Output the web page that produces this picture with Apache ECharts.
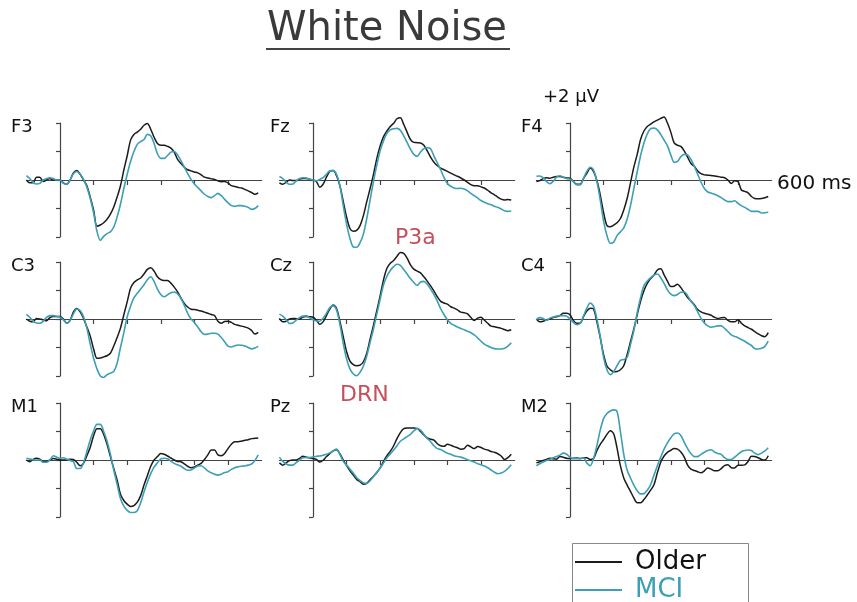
<!DOCTYPE html>
<html>
<head>
<meta charset="utf-8">
<script src="https://cdn.jsdelivr.net/npm/echarts@6/dist/echarts.min.js"></script>
<style>
html,body{margin:0;padding:0;background:#fff;}
#chart{width:857px;height:602px;}
</style>
</head>
<body>
<div id="chart"></div>
<script>
// ---------- data ----------
const times = [-100,-90,-80,-70,-60,-50,-40,-30,-20,-10,0,10,20,30,40,50,60,70,80,90,100,110,120,130,140,150,160,170,180,190,200,210,220,230,240,250,260,270,280,290,300,310,320,330,340,350,360,370,380,390,400,410,420,430,440,450,460,470,480,490,500,510,520,530,540,550,560,570,580,590];

const channels = ['F3','Fz','F4','C3','Cz','C4','M1','Pz','M2'];
const groups = ['Older','MCI'];
const xTicks = [100,200,300,400,500];

const F3_older = [0.0,-0.1,-0.1,0.1,0.1,-0.05,0.0,0.05,0.0,0.0,0.0,-0.1,-0.15,0.0,0.25,0.33,0.2,0.0,-0.2,-0.6,-1.05,-1.62,-1.58,-1.5,-1.38,-1.2,-0.95,-0.6,-0.2,0.35,0.85,1.4,1.6,1.68,1.78,1.92,1.98,1.78,1.5,1.28,1.22,1.22,1.18,1.12,0.98,0.72,0.58,0.45,0.36,0.32,0.28,0.25,0.18,0.1,0.07,0.04,0.02,-0.03,-0.06,-0.05,-0.1,-0.2,-0.23,-0.26,-0.28,-0.33,-0.38,-0.44,-0.5,-0.45];
const F3_mci = [0.15,0.05,-0.08,-0.14,-0.12,0.0,0.05,0.08,0.05,0.0,0.0,-0.12,-0.15,0.0,0.22,0.3,0.2,0.02,-0.25,-0.65,-1.15,-1.8,-2.12,-1.98,-1.88,-1.82,-1.65,-1.3,-0.85,-0.3,0.2,0.65,1.0,1.25,1.35,1.42,1.6,1.55,1.28,0.92,0.76,0.76,0.86,0.98,1.0,0.88,0.68,0.45,0.22,0.02,-0.14,-0.26,-0.38,-0.5,-0.58,-0.62,-0.55,-0.47,-0.55,-0.68,-0.8,-0.9,-0.92,-0.9,-0.9,-0.92,-0.96,-1.03,-1.0,-0.9];

const Fz_older = [-0.1,-0.15,-0.08,0.0,-0.02,-0.02,0.03,0.05,0.05,0.03,0.0,-0.05,-0.25,-0.15,0.1,0.3,0.33,0.15,-0.2,-0.75,-1.3,-1.7,-1.8,-1.77,-1.6,-1.25,-0.76,-0.3,0.2,0.76,1.2,1.52,1.72,1.88,1.99,2.15,2.18,1.95,1.68,1.42,1.32,1.31,1.3,1.22,1.02,0.8,0.62,0.5,0.42,0.36,0.3,0.24,0.18,0.13,0.07,0.0,-0.08,-0.16,-0.2,-0.2,-0.24,-0.28,-0.36,-0.45,-0.52,-0.6,-0.67,-0.7,-0.68,-0.7];
const Fz_mci = [0.12,0.05,-0.07,-0.15,-0.14,-0.03,0.05,0.08,0.07,0.03,0.0,-0.03,0.02,0.08,0.2,0.32,0.33,0.2,-0.2,-0.9,-1.55,-2.05,-2.35,-2.36,-2.2,-1.9,-1.35,-0.7,-0.05,0.53,1.03,1.38,1.64,1.76,1.8,1.81,1.74,1.55,1.32,1.08,0.9,0.83,0.98,1.1,1.13,1.1,0.84,0.6,0.36,0.08,-0.12,-0.22,-0.28,-0.3,-0.29,-0.32,-0.38,-0.47,-0.55,-0.63,-0.72,-0.78,-0.83,-0.87,-0.92,-0.96,-1.02,-1.08,-1.1,-1.09];

const F4_older = [-0.05,-0.02,0.05,0.08,0.06,0.1,0.12,0.12,0.1,0.07,0.06,-0.05,-0.15,-0.15,0.05,0.23,0.42,0.3,-0.02,-0.52,-1.15,-1.6,-1.64,-1.58,-1.5,-1.35,-1.05,-0.65,-0.1,0.45,0.9,1.42,1.72,1.88,1.96,2.04,2.1,2.16,2.21,2.0,1.68,1.3,1.22,1.18,1.02,0.8,0.58,0.48,0.32,0.22,0.18,0.17,0.16,0.14,0.12,0.1,0.08,0.0,-0.12,-0.03,-0.05,-0.35,-0.4,-0.45,-0.58,-0.65,-0.66,-0.65,-0.62,-0.58];
const F4_mci = [0.13,0.14,0.08,-0.05,-0.13,-0.05,0.1,0.15,0.1,0.05,0.03,-0.06,-0.17,-0.17,0.06,0.3,0.45,0.35,-0.05,-0.7,-1.45,-1.95,-2.22,-2.18,-1.95,-1.82,-1.68,-1.38,-0.9,-0.3,0.28,0.85,1.3,1.62,1.8,1.82,1.76,1.6,1.4,1.2,0.88,0.62,0.65,0.82,0.9,0.88,0.72,0.48,0.2,-0.08,-0.3,-0.42,-0.46,-0.5,-0.55,-0.62,-0.7,-0.76,-0.76,-0.73,-0.82,-0.9,-0.96,-1.03,-1.1,-1.1,-1.1,-1.16,-1.15,-1.13];

const C3_older = [0.0,-0.08,-0.1,0.02,0.0,-0.03,-0.06,0.05,0.09,0.09,0.09,0.0,-0.15,-0.05,0.25,0.37,0.25,0.02,-0.28,-0.6,-1.05,-1.38,-1.37,-1.33,-1.29,-1.2,-0.95,-0.65,-0.32,0.15,0.6,1.08,1.28,1.37,1.44,1.58,1.74,1.8,1.68,1.48,1.38,1.35,1.35,1.26,1.12,0.95,0.74,0.55,0.42,0.34,0.33,0.31,0.28,0.24,0.2,0.16,0.12,-0.08,-0.15,-0.09,-0.08,-0.12,-0.19,-0.22,-0.25,-0.28,-0.32,-0.4,-0.53,-0.47];
const C3_mci = [0.16,0.06,-0.08,-0.14,-0.15,-0.08,0.06,0.12,0.12,0.09,0.06,-0.03,-0.15,-0.05,0.18,0.35,0.3,0.08,-0.32,-0.88,-1.38,-1.75,-2.0,-2.05,-1.95,-1.9,-1.84,-1.55,-1.0,-0.48,0.08,0.45,0.74,0.9,1.05,1.2,1.38,1.48,1.32,1.05,0.86,0.78,0.85,0.92,0.95,0.88,0.72,0.48,0.2,0.0,-0.12,-0.28,-0.45,-0.54,-0.53,-0.5,-0.5,-0.53,-0.65,-0.8,-0.95,-0.98,-0.94,-0.91,-0.92,-0.95,-1.0,-1.05,-1.02,-0.96];

const Cz_older = [0.02,-0.1,-0.08,0.0,0.02,0.01,0.0,0.07,0.09,0.08,0.06,-0.04,-0.18,-0.1,0.12,0.35,0.49,0.38,-0.08,-0.62,-1.15,-1.48,-1.6,-1.64,-1.62,-1.5,-1.2,-0.7,-0.22,0.3,0.82,1.38,1.78,1.96,2.05,2.2,2.33,2.3,2.14,1.9,1.75,1.68,1.62,1.48,1.33,1.16,0.98,0.78,0.62,0.56,0.52,0.43,0.38,0.32,0.24,0.22,0.18,0.05,-0.05,0.03,0.06,-0.04,-0.15,-0.25,-0.27,-0.3,-0.33,-0.37,-0.41,-0.38];
const Cz_mci = [0.17,0.1,-0.02,-0.16,-0.14,-0.04,0.05,0.1,0.11,0.04,-0.02,-0.07,-0.08,0.03,0.2,0.4,0.46,0.32,-0.18,-0.85,-1.4,-1.75,-1.93,-1.99,-1.87,-1.65,-1.3,-0.82,-0.35,0.18,0.7,1.2,1.5,1.7,1.84,1.92,1.88,1.74,1.58,1.42,1.28,1.18,1.3,1.32,1.22,1.05,0.86,0.63,0.36,0.15,-0.03,-0.15,-0.22,-0.28,-0.33,-0.38,-0.43,-0.48,-0.56,-0.66,-0.78,-0.88,-0.95,-1.0,-1.04,-1.05,-1.05,-1.03,-0.95,-0.84];

const C4_older = [0.0,-0.1,-0.08,-0.03,0.0,0.05,0.08,0.12,0.2,0.2,0.15,-0.05,-0.15,-0.15,0.08,0.28,0.38,0.35,-0.1,-0.65,-1.25,-1.65,-1.78,-1.85,-1.84,-1.78,-1.64,-1.25,-0.8,-0.35,0.15,0.62,0.99,1.25,1.42,1.54,1.72,1.76,1.55,1.33,1.14,1.15,1.22,1.1,0.93,0.75,0.63,0.5,0.33,0.25,0.2,0.17,0.13,0.06,0.02,0.04,0.05,-0.05,-0.1,-0.1,-0.03,-0.15,-0.24,-0.3,-0.36,-0.44,-0.52,-0.59,-0.62,-0.48];
const C4_mci = [-0.02,0.05,0.02,-0.05,0.03,0.07,0.1,0.12,0.12,0.1,0.0,-0.12,-0.2,-0.16,0.1,0.38,0.56,0.45,0.0,-0.62,-1.35,-1.78,-1.95,-1.85,-1.64,-1.45,-1.42,-1.35,-0.9,-0.41,0.22,0.75,1.17,1.33,1.45,1.54,1.58,1.45,1.25,1.02,0.87,0.82,0.86,0.94,0.95,0.82,0.62,0.47,0.25,0.02,-0.14,-0.24,-0.29,-0.27,-0.24,-0.24,-0.33,-0.44,-0.56,-0.61,-0.66,-0.72,-0.78,-0.86,-0.93,-1.04,-1.05,-1.03,-0.96,-0.78];

const M1_older = [0.0,-0.06,0.02,0.06,0.03,-0.06,-0.06,0.0,0.05,0.03,0.0,0.0,0.0,0.03,0.02,-0.08,-0.2,-0.12,0.15,0.45,0.85,1.1,1.1,0.9,0.55,0.12,-0.3,-0.7,-1.2,-1.42,-1.55,-1.63,-1.6,-1.48,-1.25,-0.88,-0.55,-0.22,0.0,0.12,0.23,0.2,0.14,0.07,0.0,-0.05,-0.06,-0.14,-0.22,-0.27,-0.24,-0.18,-0.12,0.02,0.18,0.35,0.35,0.18,0.15,0.23,0.4,0.55,0.64,0.64,0.66,0.69,0.71,0.75,0.76,0.77];
const M1_mci = [0.06,0.03,0.01,0.0,0.0,-0.08,-0.08,0.0,0.15,0.1,0.06,0.08,0.03,-0.02,-0.06,-0.3,-0.3,-0.1,0.3,0.7,1.02,1.25,1.25,1.0,0.66,0.2,-0.35,-0.85,-1.35,-1.62,-1.77,-1.84,-1.84,-1.78,-1.5,-1.12,-0.78,-0.48,-0.25,-0.1,0.04,0.06,0.04,-0.04,-0.12,-0.17,-0.22,-0.3,-0.36,-0.35,-0.28,-0.21,-0.2,-0.28,-0.38,-0.45,-0.5,-0.53,-0.5,-0.44,-0.41,-0.33,-0.27,-0.24,-0.22,-0.21,-0.18,-0.14,-0.02,0.18];

const Pz_older = [-0.1,-0.18,-0.1,-0.02,0.0,0.0,0.06,0.13,0.1,0.08,0.05,0.02,-0.07,-0.01,0.12,0.22,0.32,0.36,0.22,0.0,-0.2,-0.38,-0.53,-0.68,-0.76,-0.85,-0.82,-0.69,-0.57,-0.44,-0.28,-0.05,0.15,0.3,0.5,0.75,0.96,1.1,1.12,1.12,1.12,1.11,1.0,0.88,0.78,0.73,0.7,0.57,0.5,0.48,0.55,0.52,0.47,0.43,0.38,0.4,0.52,0.46,0.4,0.47,0.44,0.38,0.35,0.3,0.27,0.22,0.14,0.02,0.08,0.2];
const Pz_mci = [0.1,-0.05,-0.14,-0.18,-0.18,-0.09,0.0,0.08,0.09,0.09,0.1,0.13,0.14,0.17,0.2,0.25,0.32,0.38,0.2,-0.05,-0.18,-0.32,-0.46,-0.62,-0.72,-0.8,-0.82,-0.73,-0.58,-0.43,-0.28,-0.1,0.08,0.21,0.35,0.5,0.66,0.74,0.82,0.9,1.02,1.1,1.05,0.9,0.76,0.64,0.5,0.4,0.37,0.3,0.24,0.2,0.15,0.12,0.1,0.06,0.01,-0.03,-0.07,-0.13,-0.17,-0.21,-0.27,-0.35,-0.43,-0.48,-0.46,-0.4,-0.3,-0.17];

const M2_older = [-0.1,-0.06,-0.02,0.02,0.06,0.04,0.03,0.12,0.1,0.06,0.05,0.06,0.07,0.05,0.07,0.08,0.02,0.05,0.33,0.55,0.72,0.9,1.03,0.92,0.42,-0.2,-0.63,-0.88,-1.1,-1.33,-1.5,-1.5,-1.39,-1.23,-1.06,-0.87,-0.45,-0.08,0.14,0.27,0.34,0.4,0.38,0.28,0.1,-0.18,-0.32,-0.37,-0.41,-0.45,-0.38,-0.28,-0.32,-0.38,-0.38,-0.3,-0.2,-0.17,-0.27,-0.28,-0.18,-0.18,-0.17,-0.05,0.13,0.12,0.08,0.02,0.0,0.15];
const M2_mci = [-0.2,-0.13,-0.07,-0.02,0.02,0.08,0.12,0.17,0.24,0.2,0.1,0.05,0.05,0.05,0.07,-0.1,-0.2,0.05,0.5,1.05,1.45,1.63,1.72,1.76,1.7,1.0,0.2,-0.35,-0.63,-0.88,-1.08,-1.19,-1.18,-1.06,-0.87,-0.53,-0.2,0.1,0.38,0.6,0.78,0.92,0.95,0.86,0.62,0.4,0.22,0.12,0.12,0.2,0.27,0.33,0.36,0.28,0.23,0.2,0.08,0.02,0.02,0.1,0.2,0.29,0.33,0.35,0.33,0.24,0.19,0.24,0.32,0.43];

const olderSeries = [F3_older, Fz_older, F4_older, C3_older, Cz_older, C4_older, M1_older, Pz_older, M2_older];
const mciSeries = [F3_mci, Fz_mci, F4_mci, C3_mci, Cz_mci, C4_mci, M1_mci, Pz_mci, M2_mci];

// ---------- layout ----------
const colAxisX = [60, 313, 570];   // x pixel of the 0 ms axis per column
const rowTop = [123, 262, 403];    // y pixel of +2 µV per row
const labelX = [11, 270, 521];
const pxPerMs = 0.336;
const gridW = 700 * pxPerMs;
const gridH = 114;
const BLACK = '#1b1b1b';
const TEAL = '#3c9fb6';
const RED = '#c4505c';
const AXIS = '#444';
const FONT = '"DejaVu Sans", sans-serif';

const grids = [], xAxes = [], yAxes = [], series = [], graphics = [];
channels.forEach((ch, i) => {
  const c = i % 3, r = Math.floor(i / 3);
  grids.push({left: colAxisX[c] - 100 * pxPerMs, top: rowTop[r], width: gridW, height: gridH});
  xAxes.push({
    type: 'value', gridIndex: i, min: -100, max: 600, interval: 100,
    axisLine: {onZero: true, lineStyle: {color: AXIS, width: 1.2}},
    axisTick: {show: true, customValues: xTicks, length: 5, lineStyle: {color: AXIS, width: 1.2}},
    axisLabel: {show: false}, splitLine: {show: false}
  });
  yAxes.push({
    type: 'value', gridIndex: i, min: -2, max: 2, interval: 1,
    axisLine: {show: true, onZero: true, lineStyle: {color: AXIS, width: 1.2}},
    axisTick: {show: true, length: 4, lineStyle: {color: AXIS, width: 1.2}},
    axisLabel: {show: false}, splitLine: {show: false}
  });
  series.push({
    name: groups[0], type: 'line', xAxisIndex: i, yAxisIndex: i,
    data: times.map((t, k) => [t, olderSeries[i][k]]),
    showSymbol: false, symbol: 'none', clip: false, smooth: 0.3,
    lineStyle: {color: BLACK, width: 1.5}, itemStyle: {color: BLACK}
  });
  series.push({
    name: groups[1], type: 'line', xAxisIndex: i, yAxisIndex: i,
    data: times.map((t, k) => [t, mciSeries[i][k]]),
    showSymbol: false, symbol: 'none', clip: false, smooth: 0.3,
    lineStyle: {color: TEAL, width: 1.6}, itemStyle: {color: TEAL}
  });
  graphics.push({
    type: 'text', left: labelX[c], top: rowTop[r] - 5,
    style: {text: ch, font: '18px ' + FONT, fill: '#111'}
  });
});

graphics.push(
  {type: 'text', left: 267, top: 10, style: {text: 'White Noise', font: '40px ' + FONT, fill: '#3a3a3a'}},
  {type: 'line', shape: {x1: 266, y1: 49, x2: 510, y2: 49}, style: {stroke: '#444', lineWidth: 2}},
  {type: 'text', left: 543, top: 88, style: {text: '+2 µV', font: '18px ' + FONT, fill: '#111'}},
  {type: 'text', left: 777, top: 174, style: {text: '600 ms', font: '20px ' + FONT, fill: '#111'}},
  {type: 'text', left: 395, top: 227, style: {text: 'P3a', font: '22px ' + FONT, fill: RED}},
  {type: 'text', left: 340, top: 384, style: {text: 'DRN', font: '22px ' + FONT, fill: RED}},
  {type: 'rect', shape: {x: 572.5, y: 543.5, width: 176, height: 80}, style: {fill: 'none', stroke: '#888', lineWidth: 1}}
);

const legendBase = {
  left: 575, icon: 'rect', itemWidth: 47, itemHeight: 2, padding: 0,
  selectedMode: false
};

const chart = echarts.init(document.getElementById('chart'), null, {renderer: 'canvas'});
chart.setOption({
  animation: false,
  backgroundColor: '#fff',
  grid: grids, xAxis: xAxes, yAxis: yAxes, series: series,
  legend: [
    Object.assign({}, legendBase, {
      top: 549,
      textStyle: {fontSize: 26, fontFamily: FONT, color: '#111', padding: [0, 0, 0, 8]},
      data: [groups[0]]
    }),
    Object.assign({}, legendBase, {
      top: 577,
      textStyle: {fontSize: 26, fontFamily: FONT, color: TEAL, padding: [0, 0, 0, 8]},
      data: [groups[1]]
    })
  ],
  graphic: graphics
});
</script>
</body>
</html>
